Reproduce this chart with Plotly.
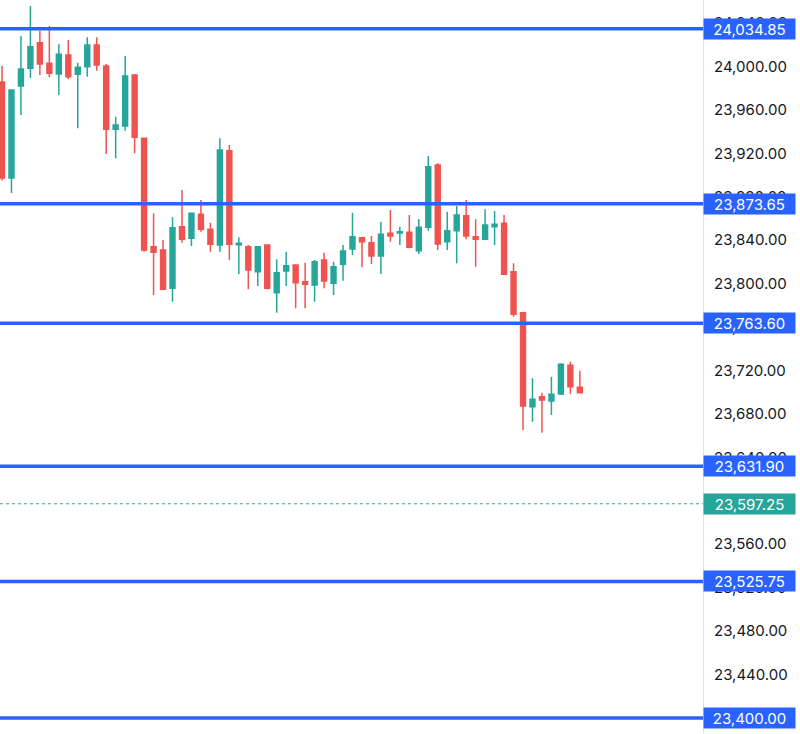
import plotly.graph_objects as go

# ---- data ----
idx = list(range(62))
opens = [23985.7, 23897.3, 23982.0, 23998.3, 24021.9, 24002.9, 23993.1, 24010.6, 23992.8, 23999.8,
         24019.8, 24000.5, 23942.2, 23945.2, 23992.2, 23933.9, 23834.0, 23831.0, 23795.7, 23852.4,
         23841.8, 23863.9, 23850.0, 23835.6, 23922.4, 23835.9, 23834.0, 23811.0, 23835.6, 23791.7,
         23811.6, 23817.2, 23801.8, 23798.7, 23821.8, 23800.3, 23817.8, 23831.9, 23842.3, 23837.7,
         23825.5, 23846.4, 23846.7, 23847.3, 23830.3, 23851.9, 23909.3, 23838.6, 23848.8, 23862.6,
         23843.2, 23840.8, 23852.4, 23855.6, 23811.0, 23773.2, 23686.7, 23695.9, 23691.9, 23698.4,
         23724.8, 23704.5]
highs = [24000.5, 23979.0, 24028.0, 24055.7, 24033.0, 24037.3, 24020.7, 24024.4, 24003.5, 24026.9,
         24026.9, 24002.3, 23953.8, 24009.7, 23993.1, 23934.5, 23864.8, 23840.2, 23861.1, 23886.2,
         23865.5, 23877.0, 23856.1, 23933.9, 23927.7, 23842.7, 23835.6, 23834.7, 23836.0, 23822.4,
         23829.4, 23817.8, 23819.3, 23821.8, 23828.5, 23820.2, 23835.6, 23865.4, 23843.0, 23843.9,
         23857.0, 23867.8, 23852.4, 23863.2, 23859.6, 23917.6, 23910.8, 23866.3, 23871.5, 23877.0,
         23859.3, 23868.5, 23866.9, 23863.2, 23818.7, 23774.0, 23712.8, 23699.5, 23714.3, 23726.6,
         23728.1, 23719.8]
lows = [23895.0, 23883.4, 23955.3, 23989.4, 23992.2, 23990.0, 23973.7, 23988.2, 23943.1, 23990.6,
        23996.1, 23919.4, 23915.4, 23940.9, 23920.0, 23829.4, 23789.5, 23794.0, 23783.4, 23837.7,
        23834.7, 23847.8, 23829.4, 23829.4, 23821.8, 23808.9, 23794.8, 23797.8, 23794.8, 23773.2,
        23797.8, 23777.3, 23777.3, 23783.4, 23795.7, 23789.5, 23802.7, 23826.4, 23815.0, 23818.1,
        23808.9, 23838.6, 23835.6, 23832.6, 23827.3, 23848.8, 23831.0, 23831.0, 23818.7, 23840.8,
        23815.6, 23840.2, 23835.6, 23808.0, 23769.5, 23665.2, 23672.8, 23662.7, 23679.0, 23697.5,
        23698.4, 23699.0]
closes = [23897.3, 23978.4, 23997.7, 24018.2, 24002.3, 23993.7, 24011.2, 23990.6, 23999.3, 24019.8,
          24001.4, 23942.2, 23946.1, 23991.3, 23934.8, 23831.0, 23828.9, 23794.8, 23851.5, 23840.8,
          23864.8, 23850.0, 23836.2, 23923.1, 23836.2, 23837.2, 23812.6, 23834.0, 23795.7, 23810.1,
          23816.5, 23800.9, 23799.4, 23820.2, 23802.4, 23815.6, 23830.0, 23843.2, 23838.6, 23825.5,
          23845.4, 23843.9, 23847.7, 23833.5, 23851.9, 23907.7, 23836.5, 23848.8, 23863.2, 23843.9,
          23840.8, 23854.0, 23854.6, 23808.6, 23771.8, 23687.3, 23693.5, 23692.8, 23698.1, 23725.7,
          23705.1, 23699.5]

levels = [24034.85, 23873.65, 23763.60, 23631.90, 23525.75, 23400.00]
last_price = 23597.25

BLUE = "#2962ff"
TEAL = "#26a69a"
RED = "#ef5350"
FONT = "Inter"

fig = go.Figure()
fig.add_trace(go.Candlestick(
    x=idx, open=opens, high=highs, low=lows, close=closes,
    increasing=dict(line=dict(color=TEAL, width=1.5), fillcolor=TEAL),
    decreasing=dict(line=dict(color=RED, width=1.5), fillcolor=RED),
    showlegend=False, hoverinfo="skip",
))

shapes = []
annotations = []
for lv in levels:
    shapes.append(dict(type="line", xref="paper", x0=0, x1=1, yref="y", y0=lv, y1=lv,
                       line=dict(color=BLUE, width=3.5), layer="above"))
    annotations.append(dict(xref="paper", x=1, xanchor="left", yref="y", y=lv, yanchor="middle",
                            text=f"{lv:,.2f}", showarrow=False, bgcolor=BLUE,
                            font=dict(family=FONT, size=15, color="white"),
                            width=88, height=17, borderpad=1.5, align="center"))
shapes.append(dict(type="line", xref="paper", x0=0, x1=1, yref="y", y0=last_price, y1=last_price,
                   line=dict(color=TEAL, width=1, dash="dot"), layer="above"))
annotations.append(dict(xref="paper", x=1, xanchor="left", yref="y", y=last_price, yanchor="middle",
                        text=f"{last_price:,.2f}", showarrow=False, bgcolor=TEAL,
                        font=dict(family=FONT, size=15, color="white"),
                        width=88, height=17, borderpad=1.5, align="center"))

fig.update_layout(
    width=800, height=734,
    margin=dict(l=0, r=97, t=0, b=0, autoexpand=False),
    paper_bgcolor="white", plot_bgcolor="white",
    boxgap=0.26,
    shapes=shapes, annotations=annotations,
    xaxis=dict(range=[-0.21, 74.0], visible=False, rangeslider=dict(visible=False),
               showgrid=False, zeroline=False),
    yaxis=dict(side="right", range=[23385.2, 24061.25], tick0=0, dtick=40,
               tickformat=",.2f", showgrid=False, zeroline=False,
               showline=True, linecolor="#e0e3eb", linewidth=1, ticks="",
               ticklabelstandoff=7, automargin=False,
               tickfont=dict(family=FONT, size=15, color="#131722")),
)

fig.write_html("out.html", config={"displayModeBar": False},
               post_script="document.body.style.margin='0';document.body.style.overflow='hidden';")
